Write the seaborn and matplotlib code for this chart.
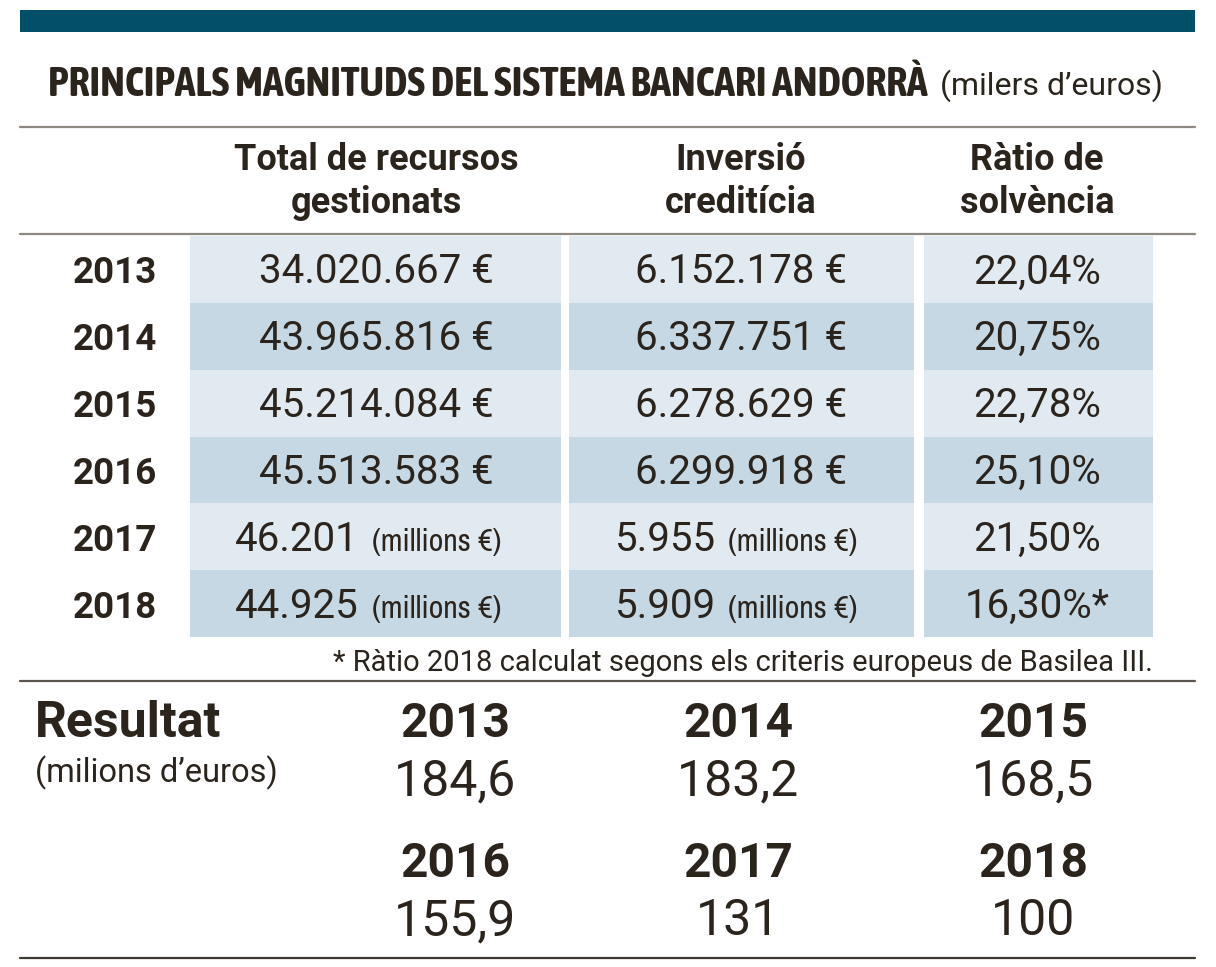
import matplotlib
matplotlib.use("Agg")
import matplotlib.pyplot as plt
from matplotlib.colors import ListedColormap
from matplotlib import font_manager
import numpy as np
import pandas as pd
import seaborn as sns

# ---------------- data ----------------
years = ["2013", "2014", "2015", "2016", "2017", "2018"]
col_headers = ["Total de recursos\ngestionats", "Inversió\ncreditícia", "Ràtio de\nsolvència"]
recursos = ["34.020.667 €", "43.965.816 €", "45.214.084 €", "45.513.583 €", "46.201", "44.925"]
inversio = ["6.152.178 €", "6.337.751 €", "6.278.629 €", "6.299.918 €", "5.955", "5.909"]
ratio = ["22,04%", "20,75%", "22,78%", "25,10%", "21,50%", "16,30%*"]
millions_suffix = ["", "", "", "", "(millions €)", "(millions €)"]
result_years = ["2013", "2014", "2015", "2016", "2017", "2018"]
result_values = ["184,6", "183,2", "168,5", "155,9", "131", "100"]

title = "PRINCIPALS MAGNITUDS DEL SISTEMA BANCARI ANDORRÀ"
title_unit = "(milers d’euros)"
footnote = "* Ràtio 2018 calculat segons els criteris europeus de Basilea III."
result_title = "Resultat"
result_unit = "(milions d’euros)"

# ---------------- style ----------------
sns.set_theme(style="white")
body = "Roboto"
plt.rcParams["font.family"] = [body, "DejaVu Sans"]

# condensed faces, if installed: one with a bold weight for the title, one regular
def _w(v):
    try:
        return int(v)
    except (TypeError, ValueError):
        return {"bold": 700, "heavy": 800, "black": 900, "semibold": 600,
                "demibold": 600, "normal": 400, "regular": 400, "light": 300}.get(str(v).lower(), 400)

cands = {}
for f in font_manager.fontManager.ttflist:
    n = f.name.lower()
    if "condensed" in n or "narrow" in n:
        cands.setdefault(f.name, set()).add(_w(f.weight))

cond_bold_family, cond_bold_weight = None, "bold"
cond_reg_family = None
for name, ws in sorted(cands.items()):
    if cond_bold_family is None and any(w >= 700 for w in ws):
        cond_bold_family = name
        cond_bold_weight = min(w for w in ws if w >= 700)
    if cond_reg_family is None and any(350 <= w <= 450 for w in ws):
        cond_reg_family = name
if cond_bold_family is None:
    for name, ws in sorted(cands.items()):
        if any(w >= 600 for w in ws):
            cond_bold_family = name
            cond_bold_weight = max(ws)
            break
if cond_bold_family is None:
    cond_bold_family = body
if cond_reg_family is None:
    cond_reg_family = cond_bold_family if cond_bold_family != body else body

TXT = "#2b241d"
LIGHT = "#e1eaf1"
DARK = "#c5d8e4"
BAR = "#024f6a"
W, H = 1216, 967

fig = plt.figure(figsize=(W / 100, H / 100), dpi=100)
fig.patch.set_facecolor("white")

def px_axes(x0, y0, x1, y1):
    return fig.add_axes([x0 / W, 1 - y1 / H, (x1 - x0) / W, (y1 - y0) / H])

# table cell backgrounds via seaborn heatmaps (one per column)
parity = pd.DataFrame({"p": [i % 2 for i in range(len(years))]}, index=years)
col_spans = [(190, 561), (569, 914), (924, 1153)]
top_y, bot_y = 236, 637
for (x0, x1) in col_spans:
    hax = px_axes(x0, top_y, x1, bot_y)
    sns.heatmap(parity, ax=hax, cmap=ListedColormap([LIGHT, DARK]), cbar=False,
                vmin=0, vmax=1, xticklabels=False, yticklabels=False, linewidths=0)
    hax.set_xlabel(""); hax.set_ylabel("")

# overlay axes in pixel coordinates
ax = fig.add_axes([0, 0, 1, 1])
ax.set_xlim(0, W); ax.set_ylim(H, 0)
ax.axis("off")
ax.patch.set_alpha(0)
renderer = fig.canvas.get_renderer()

def fit_width(txt, width, start_size, max_size):
    txt.set_fontsize(start_size)
    w = txt.get_window_extent(renderer=renderer).width
    txt.set_fontsize(min(max_size, start_size * width / w))
    return txt

# top bar
ax.fill_between([20, 1195], 10, 32, color=BAR, lw=0)

# title
t = ax.text(48, 96, title, fontweight=cond_bold_weight,
            family=[cond_bold_family, "DejaVu Sans"], color=TXT, ha="left", va="baseline")
fit_width(t, 880, 28, 32)
ax.text(940, 95, title_unit, fontsize=23, color=TXT, ha="left", va="baseline")

# rules
ax.plot([20, 1195], [127, 127], color="#8e8882", lw=1.6)
ax.plot([20, 1195], [234, 234], color="#8e8882", lw=1.6)
ax.plot([20, 1195], [681, 681], color="#5b5650", lw=1.6)
ax.plot([20, 1195], [958, 958], color="#3e3933", lw=1.6)

# column headers
head_cx = [376, 741, 1037]
for cx, h in zip(head_cx, col_headers):
    l1, l2 = h.split("\n")
    ax.text(cx, 170, l1, fontsize=26, fontweight="bold", color=TXT, ha="center", va="baseline")
    ax.text(cx, 213, l2, fontsize=26, fontweight="bold", color=TXT, ha="center", va="baseline")

# rows
row_h = (bot_y - top_y) / len(years)
for i, y in enumerate(years):
    cy = top_y + row_h * (i + 0.5)
    base = cy + 14
    ax.text(115, base, y, fontsize=26.5, fontweight="bold", color=TXT, ha="center", va="baseline")
    if millions_suffix[i]:
        ax.text(359, base, recursos[i], fontsize=29, color=TXT, ha="right", va="baseline")
        s1 = ax.text(372, base, millions_suffix[i], color=TXT, ha="left", va="baseline",
                     family=[cond_reg_family, "DejaVu Sans"])
        fit_width(s1, 140, 19, 23)
        ax.text(716, base, inversio[i], fontsize=29, color=TXT, ha="right", va="baseline")
        s2 = ax.text(728, base, millions_suffix[i], color=TXT, ha="left", va="baseline",
                     family=[cond_reg_family, "DejaVu Sans"])
        fit_width(s2, 140, 19, 23)
    else:
        ax.text(376, base, recursos[i], fontsize=29, color=TXT, ha="center", va="baseline")
        ax.text(741, base, inversio[i], fontsize=29, color=TXT, ha="center", va="baseline")
    ax.text(1037, base, ratio[i], fontsize=29, color=TXT, ha="center", va="baseline")

# footnote
ax.text(1153, 671, footnote, fontsize=21, color=TXT, ha="right", va="baseline")

# Resultat section
ax.text(35, 737, result_title, fontsize=36, fontweight="bold", color=TXT, ha="left", va="baseline")
ax.text(35, 782, result_unit, fontsize=23.5, color=TXT, ha="left", va="baseline")
res_cx = [455, 738, 1033]
for k, (ry, rv) in enumerate(zip(result_years, result_values)):
    cx = res_cx[k % 3]
    yb = 737 if k < 3 else 877
    ax.text(cx, yb, ry, fontsize=34.5, fontweight="bold", color=TXT, ha="center", va="baseline")
    ax.text(cx, yb + 58, rv, fontsize=36, color=TXT, ha="center", va="baseline")

fig.savefig("out.png", dpi=100, facecolor="white")
